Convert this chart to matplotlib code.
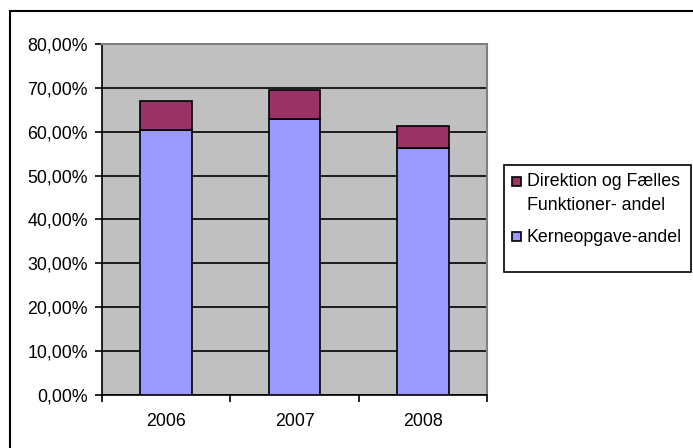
import matplotlib.pyplot as plt
from matplotlib.patches import Rectangle
from matplotlib.ticker import FuncFormatter, FixedLocator

years = ["2006", "2007", "2008"]
kerne = [60.4, 62.9, 56.3]        # Kerneopgave-andel (%)
direktion = [6.6, 6.7, 5.1]       # Direktion og Fælles Funktioner- andel (%)

W, H = 693, 448
FS = 12.8
C_KERNE, C_DIR = '#9999FF', '#993366'
plt.rcParams['font.family'] = ['Liberation Sans', 'DejaVu Sans']
fig = plt.figure(figsize=(W / 100, H / 100), dpi=100)


def px(x0, y0, w=0, h=0):
    # pixel box (from top-left) -> figure fraction
    return x0 / W, 1 - (y0 + h) / H, w / W, h / H


# outer chart-area border (runs off the right/bottom edges)
fig.patches.append(Rectangle((9.5 / W, -0.05), 1.2, 1 - 11 / H + 0.05,
                             transform=fig.transFigure, fill=False,
                             edgecolor='black', linewidth=1.5))

ax = fig.add_axes(px(102, 44, 385, 351))
ax.set_facecolor('#C0C0C0')

x = range(len(years))
w = 0.405
ax.bar(x, kerne, w, color=C_KERNE, edgecolor='black', linewidth=1.2, zorder=3)
ax.bar(x, direktion, w, bottom=kerne, color=C_DIR, edgecolor='black',
       linewidth=1.2, zorder=3)

ax.set_xlim(-0.5, 2.5)
ax.set_ylim(0, 80)
ax.yaxis.set_major_locator(FixedLocator(range(0, 81, 10)))
ax.yaxis.set_major_formatter(FuncFormatter(lambda v, p: f"{v:.2f}%".replace('.', ',')))
ax.grid(axis='y', color='black', linewidth=1.2, zorder=1)

# tick marks between categories, labels centred under bars
ax.set_xticks([-0.5, 0.5, 1.5, 2.5])
ax.set_xticklabels([])
ax.set_xticks(list(x), minor=True)
ax.set_xticklabels(years, minor=True)
ax.tick_params(axis='x', which='minor', length=0, pad=13, labelsize=FS)
ax.tick_params(axis='x', which='major', length=5, width=1.2, direction='out')
ax.tick_params(axis='y', length=5, width=1.2, direction='out', pad=5, labelsize=FS)

for s in ['left', 'bottom']:
    ax.spines[s].set_linewidth(1.2)
    ax.spines[s].set_color('black')
for s in ['top', 'right']:
    ax.spines[s].set_color('#808080')
    ax.spines[s].set_linewidth(1.5)

# legend box, drawn by hand so the swatch sits on the first text line
lx, ly, lw, lh = px(504, 165, 187, 107)
fig.patches.append(Rectangle((lx, ly), lw, lh, transform=fig.transFigure,
                             fill=False, edgecolor='black', linewidth=1.2))
legend_rows = [(C_DIR, ["Direktion og Fælles", "Funktioner- andel"], 182),
               (C_KERNE, ["Kerneopgave-andel"], 237)]
for color, lines, yc in legend_rows:
    sx, sy, sw, sh = px(512, yc - 4.5, 9, 9)
    fig.patches.append(Rectangle((sx, sy), sw, sh, transform=fig.transFigure,
                                 facecolor=color, edgecolor='black', linewidth=1.2))
    for i, line in enumerate(lines):
        fig.text(527 / W, 1 - (yc + 23 * i) / H, line, fontsize=FS,
                 ha='left', va='center')

fig.savefig('out.png', dpi=100)
